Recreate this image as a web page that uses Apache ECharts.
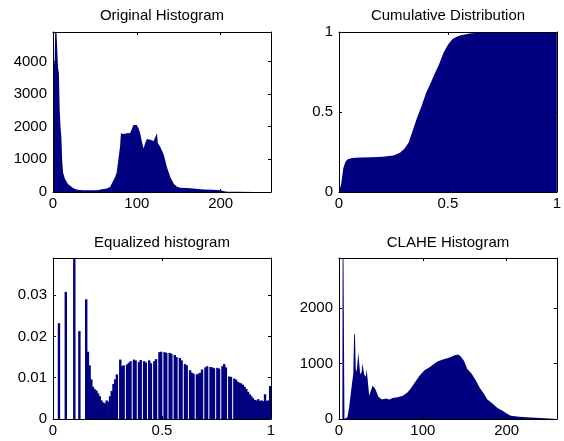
<!DOCTYPE html>
<html>
<head>
<meta charset="utf-8">
<script src="https://cdn.jsdelivr.net/npm/echarts@6/dist/echarts.min.js"></script>
<style>
  html, body { margin: 0; padding: 0; background: #fff; }
  #chart { width: 564px; height: 441px; }
</style>
</head>
<body>
<div id="chart"></div>
<script>
// --- values ---

// original histogram (grey level -> pixel count)
const origLevels = [0, 1, 2, 3, 4, 5, 6, 7, 8, 9, 10, 11, 12, 14, 16, 18, 20,
  24, 28, 32, 36, 40, 44, 48, 52, 56, 60, 64, 68, 72, 74, 76, 78, 80, 81,
  84, 88, 92, 94, 96, 98, 100, 102, 104, 106, 108, 110, 112, 116, 120, 122,
  124, 125, 128, 132, 136, 140, 144, 148, 152, 160, 170, 180, 190, 200, 204,
  208, 220, 240, 256];
const origCounts = [3800, 3900, 4000, 5600, 5600, 5600, 3800, 3650, 2500, 2000, 1650, 950, 600, 420, 320, 240, 180,
  120, 80, 60, 55, 50, 55, 50, 55, 70, 90, 110, 150, 350, 450, 600, 1000, 1400, 1800,
  1780, 1800, 1810, 1850, 2050, 2080, 2050, 1950, 1800, 1550, 1330, 1500, 1620, 1600, 1560, 1500,
  1800, 1500, 1380, 1150, 750, 450, 250, 160, 130, 120, 100, 80, 70, 50, 20,
  10, 5, 3, 0];

// cumulative distribution
const cdfX = [0, 0.01, 0.02, 0.03, 0.04, 0.06, 0.1, 0.15, 0.2, 0.25, 0.28, 0.3, 0.32, 0.34, 0.36,
  0.38, 0.4, 0.42, 0.44, 0.46, 0.48, 0.5, 0.52, 0.54, 0.56, 0.6, 0.64, 0.68, 0.75, 1];
const cdfY = [0, 0.05, 0.15, 0.19, 0.205, 0.212, 0.215, 0.217, 0.22, 0.228, 0.245, 0.27, 0.31, 0.39, 0.47,
  0.54, 0.62, 0.68, 0.74, 0.8, 0.87, 0.92, 0.955, 0.97, 0.98, 0.99, 0.995, 1, 1, 1];

// equalized histogram, 128 bins over 0..1 (empty bins give the white gaps)
const eqVals = [0, 0, 0, 0.0232, 0, 0, 0, 0.0308, 0, 0,
  0, 0, 0.045, 0, 0, 0.0213, 0, 0, 0, 0.029,
  0.0163, 0.013, 0.0096, 0.0078, 0.0072, 0.0069, 0.0062, 0.0055, 0.0045, 0.004,
  0.0038, 0.0045, 0.0042, 0.0055, 0.0068, 0.0085, 0.0096, 0.0108, 0, 0.0144,
  0.0128, 0.013, 0, 0.0132, 0.0136, 0.014, 0, 0.0144, 0.0142, 0,
  0.0138, 0.0143, 0, 0.014, 0.0137, 0, 0.0142, 0.0135, 0, 0.014,
  0.0145, 0, 0.0162, 0.0163, 0, 0.0162, 0.016, 0, 0.016, 0.0158,
  0, 0.0155, 0.015, 0, 0.0148, 0.0142, 0, 0.0133, 0.013, 0,
  0.0118, 0.0112, 0.011, 0, 0.0108, 0.011, 0.0112, 0.012, 0, 0.0125,
  0.0128, 0, 0.0126, 0.0125, 0.0123, 0, 0.0124, 0.0122, 0, 0.0128,
  0.0133, 0.0125, 0, 0.0103, 0.0102, 0, 0.0098, 0.0095, 0.009, 0.0088,
  0.0086, 0.0083, 0.0078, 0.0073, 0.0066, 0.006, 0.0055, 0.005, 0.0046, 0.0045,
  0.0048, 0.0044, 0.0045, 0.0043, 0.006, 0.0044, 0.0045, 0.008];

// CLAHE histogram
const claheLevels = [0, 4, 4.5, 6, 6.5, 10, 12, 14, 16, 17,
  18, 19, 20, 21, 22, 23, 24, 25, 26, 27, 28, 29, 30, 31, 32, 33, 34, 35, 36, 37, 38,
  40, 43, 47, 51, 56, 60, 64, 70, 76, 82,
  86, 90, 96, 102, 108, 114, 118, 124, 130, 134,
  138, 142, 145, 149, 153, 158, 163, 168, 173, 177,
  183, 189, 195, 200, 205, 215, 224, 240, 260];
const claheCounts = [0, 0, 5000, 5000, 0, 30, 200, 450, 700, 800,
  1500, 1550, 900, 850, 1000, 1200, 1200, 850, 800, 850, 1000, 1020, 800, 780, 760, 900, 920, 900, 420, 400, 450,
  600, 550, 400, 350, 370, 350, 380, 390, 420, 480,
  560, 650, 780, 880, 930, 1000, 1040, 1070, 1100, 1120,
  1150, 1160, 1130, 1050, 900, 820, 700, 560, 450, 350,
  280, 200, 150, 100, 60, 40, 30, 20, 15];

// axis ranges [min, max, interval]
const xRanges = [[0, 260, 100], [0, 1, 0.5], [0, 1, 0.5], [0, 260, 100]];
const yRanges = [[0, 4900, 1000], [0, 1, 0.5], [0, 0.039, 0.01], [0, 2900, 1000]];
const titles = ['Original Histogram', 'Cumulative Distribution', 'Equalized histogram', 'CLAHE Histogram'];

// --- layout ---
const navy = '#000080';
const font = "'Liberation Sans', Arial, sans-serif";
// plot boxes [left, top, width, height]
const boxes = [[53, 32, 218, 160], [339, 32, 218, 160], [53, 258, 218, 161], [339, 258, 218, 161]];
const titleTops = [8, 8, 235, 235];

const grid = [], xAxis = [], yAxis = [], title = [];

function makeAxis(range, gridIndex, position, labels) {
  const [min, max, interval] = range;
  return {
    type: 'value',
    gridIndex: gridIndex,
    position: position,
    min: min,
    max: max,
    interval: interval,
    z: 5,
    splitLine: { show: false },
    axisLine: { show: true, onZero: false, lineStyle: { color: '#000', width: 1 } },
    axisTick: { show: true, inside: true, length: 3, lineStyle: { color: '#000' } },
    axisLabel: {
      show: labels,
      color: '#000',
      fontFamily: font,
      fontSize: 15,
      margin: position === 'bottom' ? 4 : 6,
      formatter: v => String(+v.toFixed(6)),
      showMinLabel: true,
      showMaxLabel: Math.abs(max / interval - Math.round(max / interval)) < 1e-9
    }
  };
}

boxes.forEach((b, i) => {
  grid.push({ left: b[0], top: b[1], width: b[2], height: b[3], containLabel: false });
  // bottom/left axes carry the labels, top/right ones just repeat the ticks
  xAxis.push(makeAxis(xRanges[i], i, 'bottom', true));
  xAxis.push(makeAxis(xRanges[i], i, 'top', false));
  yAxis.push(makeAxis(yRanges[i], i, 'left', true));
  yAxis.push(makeAxis(yRanges[i], i, 'right', false));
  title.push({
    text: titles[i],
    left: b[0] + b[2] / 2,
    top: titleTops[i],
    padding: 0,
    textAlign: 'center',
    textStyle: { fontFamily: font, fontSize: 15, fontWeight: 'normal', color: '#000' }
  });
});

function areaSeries(i, data) {
  return {
    type: 'line',
    xAxisIndex: 2 * i,
    yAxisIndex: 2 * i,
    data: data,
    symbol: 'none',
    clip: true,
    animation: false,
    lineStyle: { width: 0 },
    areaStyle: { color: navy, opacity: 1 }
  };
}

const pairs = (xs, ys) => xs.map((x, k) => [x, ys[k]]);

// equalized histogram as real bars, one per bin centre; bars a little wider
// than a bin so that neighbours merge and only empty bins show as white lines
const eqCentres = eqVals.map((_, k) => (k + 0.5) / eqVals.length);

const series = [
  areaSeries(0, pairs(origLevels, origCounts)),
  areaSeries(1, pairs(cdfX, cdfY)),
  {
    type: 'bar',
    xAxisIndex: 4,
    yAxisIndex: 4,
    data: pairs(eqCentres, eqVals),
    barWidth: boxes[2][2] / eqVals.length + 0.7,
    clip: true,
    animation: false,
    itemStyle: { color: navy }
  },
  areaSeries(3, pairs(claheLevels, claheCounts))
];

const chart = echarts.init(document.getElementById('chart'), null, { renderer: 'canvas' });
chart.setOption({
  backgroundColor: '#fff',
  animation: false,
  title: title,
  grid: grid,
  xAxis: xAxis,
  yAxis: yAxis,
  series: series
});
</script>
</body>
</html>
